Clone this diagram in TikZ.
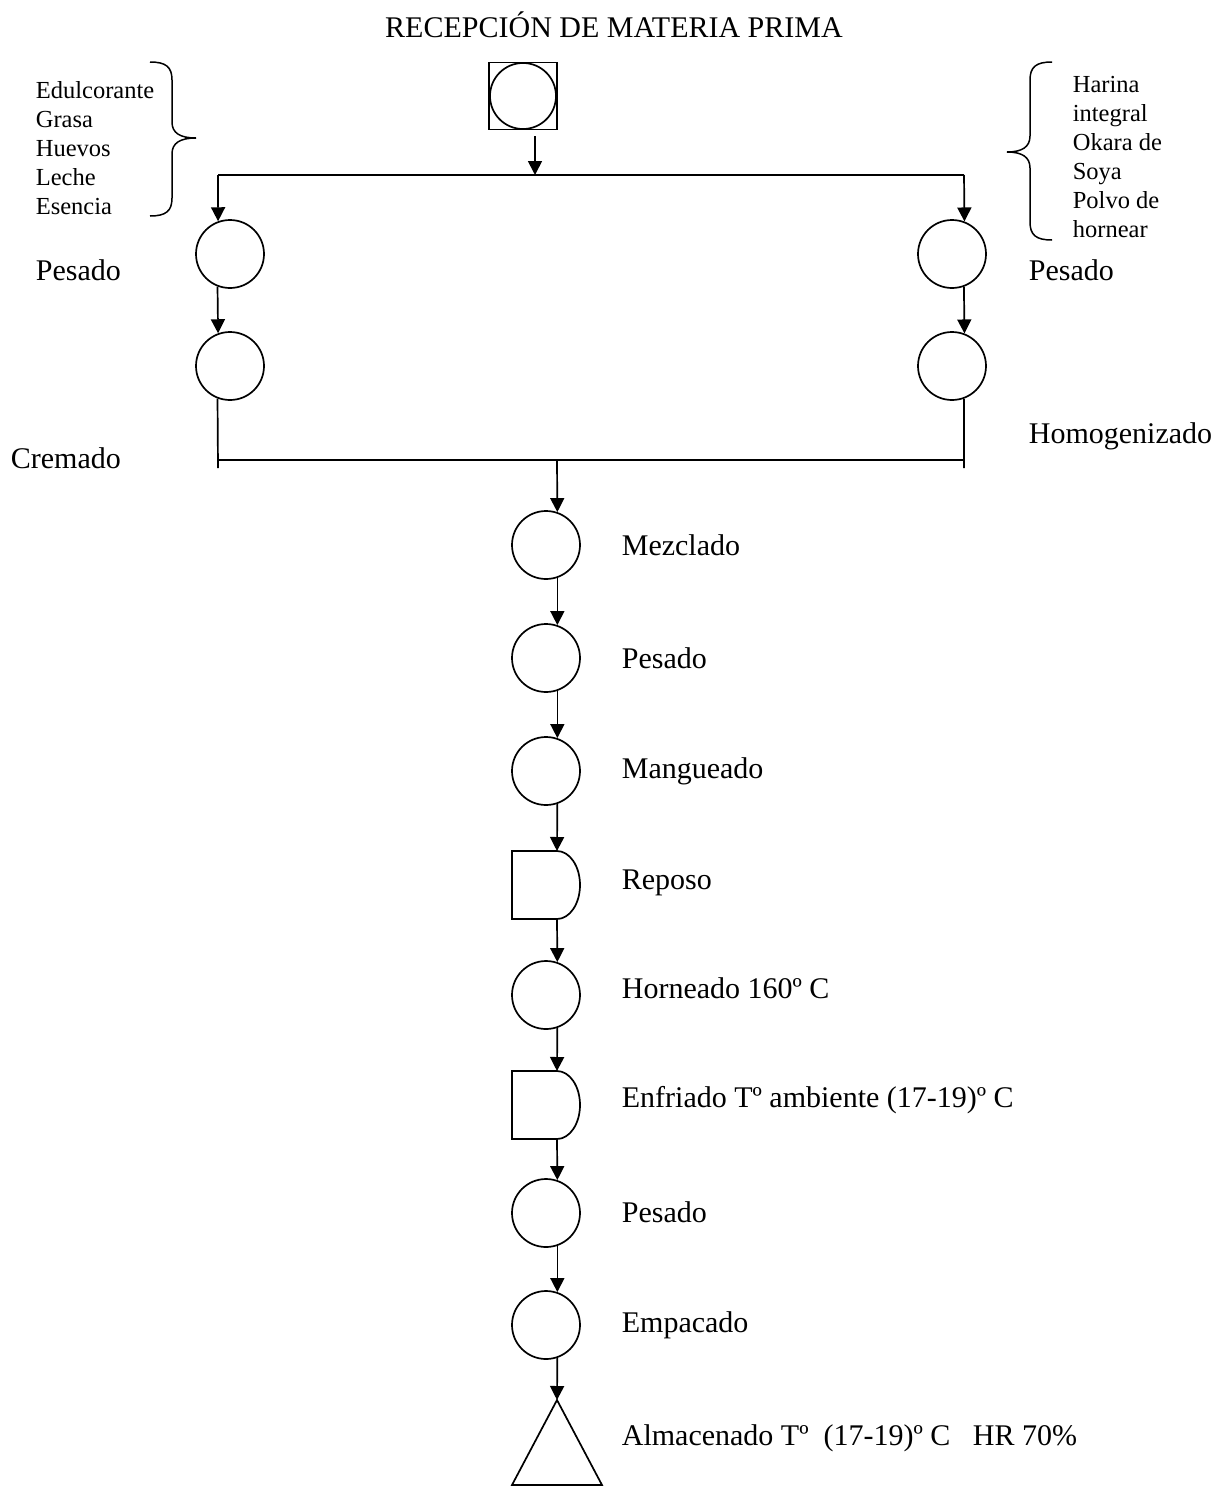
\documentclass[tikz,border=0pt]{standalone}
\usepackage{fontspec}
\setmainfont{Liberation Serif}
\usetikzlibrary{arrows.meta,calc}
\begin{document}
\begin{tikzpicture}[x=1pt,y=-1pt,
  line width=1.7pt,
  proc/.style={circle,draw,minimum size=68pt,inner sep=0pt},
  dnode/.style={minimum width=68pt,minimum height=68pt,inner sep=0pt,outer sep=0pt},
  arr/.style={-{Triangle[length=14pt,width=14pt]}},
  lbl/.style={anchor=west,inner sep=0pt,font=\fontsize{30}{35}\selectfont},
  lst/.style={anchor=west,inner sep=0pt,align=left,font=\fontsize{24.5}{29}\selectfont}]
\useasboundingbox (0,0) rectangle (1221,1486);

% title
\node[lbl,anchor=center] (title) at (614,25) {RECEPCIÓN DE MATERIA PRIMA};

% reception symbol
\node[draw,minimum width=68pt,minimum height=67pt,inner sep=0pt] (recep) at (523,96) {};
\node[proc,minimum size=66pt] (recepc) at (523,96) {};

% ingredient lists and braces
\node[lst] (listL) at (35,148) {Edulcorante\\Grasa\\Huevos\\Leche\\Esencia};
\node[lst] (listR) at (1072,157) {Harina\\integral\\Okara de\\Soya\\Polvo de\\hornear};
\draw[line width=1.5pt] (150,62) .. controls (166,62) and (172,67) .. (172,80)
  -- (172,122) .. controls (172,133) and (180,138) .. (196,138)
  .. controls (180,138) and (172,143) .. (172,154)
  -- (172,198) .. controls (172,211) and (166,216) .. (150,216);
\draw[line width=1.5pt] (1052,62) .. controls (1036,62) and (1030,67) .. (1030,80)
  -- (1030,136) .. controls (1030,147) and (1022,152) .. (1007,152)
  .. controls (1022,152) and (1030,157) .. (1030,168)
  -- (1030,222) .. controls (1030,235) and (1036,240) .. (1052,240);

% side columns
\node[proc] (pesL) at (230,254) {};
\node[proc] (crem) at (230,366) {};
\node[proc] (pesR) at (952,254) {};
\node[proc] (homo) at (952,366) {};
\node[lbl] (tpesL) at (35,270) {Pesado};
\node[lbl] (tcrem) at (10,458) {Cremado};
\node[lbl] (tpesR) at (1028,270) {Pesado};
\node[lbl] (thomo) at (1028,436) {Homogenizado};

% top distribution
\coordinate (jT) at (535,175);
\coordinate (jL) at (218,175);
\coordinate (jR) at (964,175);
\draw[arr] ($(recep.south)+(12,6)$) -- (jT);
\draw (jL) -- (jR);
\draw[arr] (jL) -- (pesL.110.7);
\draw[arr] (jR) -- (pesR.69.3);
\draw[arr] (pesL.249.3) -- (crem.110.7);
\draw[arr] (pesR.290.7) -- (homo.69.3);

% bottom collection
\coordinate (bL) at (218,468);
\coordinate (bR) at (964,468);
\coordinate (hL) at (218,460);
\coordinate (hR) at (964,460);
\coordinate (hM) at (557,460);
\draw (crem.249.3) -- (bL);
\draw (homo.290.7) -- (bR);
\draw (hL) -- (hR);

% central column
\node[proc] (mez) at (546,545) {};
\node[proc] (pes2) at (546,658) {};
\node[proc] (mang) at (546,771) {};
\node[dnode] (rep) at (546,885) {};
\node[proc] (horn) at (546,995) {};
\node[dnode] (enf) at (546,1105) {};
\node[proc] (pes3) at (546,1213) {};
\node[proc] (emp) at (546,1325) {};
\coordinate (almTop) at (557,1400);
\coordinate (almL) at (512,1485);
\coordinate (almR) at (602,1485);

\foreach \d in {rep,enf}{
  \draw[line join=miter] (\d.north west) -- ($(\d.north west)+(45,0)$)
    arc[start angle=90,end angle=-90,x radius=23pt,y radius=34pt]
    -- (\d.south west) -- cycle;
}
\draw (almTop) -- (almR) -- (almL) -- cycle;

\draw[arr] (hM) -- (mez.71);
\draw[arr] (mez.289) -- (pes2.71);
\draw[arr] (pes2.289) -- (mang.71);
\draw[arr] (mang.289) -- ($(rep.north)+(11,0)$);
\draw[arr] ($(rep.south)+(11,0)$) -- (horn.71);
\draw[arr] (horn.289) -- ($(enf.north)+(11,0)$);
\draw[arr] ($(enf.south)+(11,0)$) -- (pes3.71);
\draw[arr] (pes3.289) -- (emp.71);
\draw[arr] (emp.289) -- (almTop);

\node[lbl] (tmez) at (621,545) {Mezclado};
\node[lbl] (tpes2) at (621,658) {Pesado};
\node[lbl] (tmang) at (621,771) {Mangueado};
\node[lbl] (trep) at (621,883) {Reposo};
\node[lbl] (thorn) at (621,988) {Horneado 160º C};
\node[lbl] (tenf) at (621,1100) {Enfriado Tº ambiente (17-19)º C};
\node[lbl] (tpes3) at (621,1212) {Pesado};
\node[lbl] (temp) at (621,1325) {Empacado};
\node[lbl] (talm) at (621,1438) {Almacenado Tº\ \ (17-19)º C\ \ \ HR 70\%};
\end{tikzpicture}
\end{document}
